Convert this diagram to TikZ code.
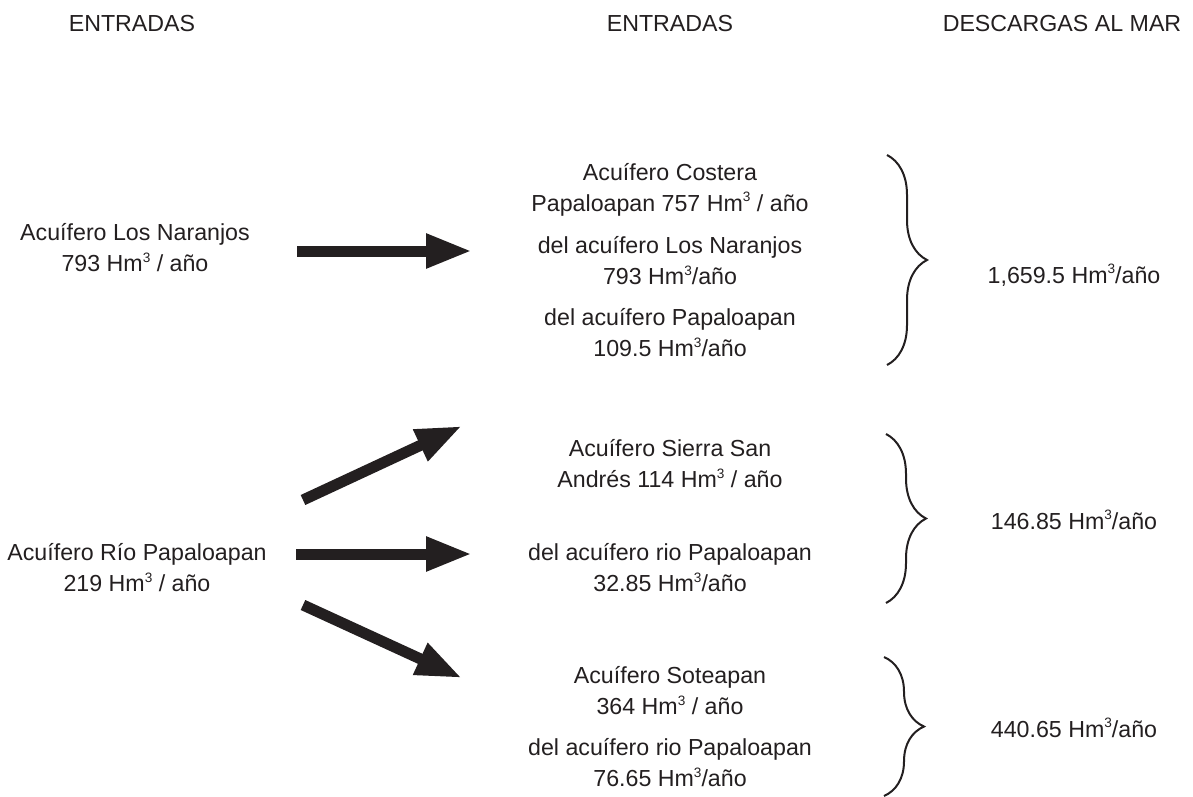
\documentclass[tikz,border=0pt]{standalone}
\usepackage{fontspec}
\setmainfont{Liberation Sans}
\usetikzlibrary{arrows.meta,decorations.pathreplacing}
\definecolor{ink}{HTML}{231F20}
\newcommand{\hmc}{Hm\raisebox{0.42em}{\fontsize{6.8}{7}\selectfont 3}}
\begin{document}
\begin{tikzpicture}[x=0.5pt,y=-0.5pt,
  lbl/.style={align=center, text=ink, font=\fontsize{11.6}{15.5}\selectfont, inner sep=0pt},
  fat/.style={draw=ink, line width=5.5pt, -{Triangle[length=23pt,width=16pt]}},
  brc/.style={draw=ink, line width=1pt, decorate, decoration={brace, amplitude=20pt}}]
\useasboundingbox (0,0) rectangle (1193,797);
% headers
\node[lbl] (h1) at (132,24) {ENTRADAS};
\node[lbl] (h2) at (670,24) {ENTRADAS};
\node[lbl] (h3) at (1062,24) {DESCARGAS AL MAR};
% left sources
\node[lbl] (ln) at (135,248) {Acuífero Los Naranjos\\793 \hmc{} / año};
\node[lbl] (rp) at (137,568) {Acuífero Río Papaloapan\\219 \hmc{} / año};
% middle group 1
\node[lbl] (g1a) at (670,190) {Acuífero Costera\\Papaloapan 757 \hmc{} / año};
\node[lbl] (g1b) at (670,261) {del acuífero Los Naranjos\\793 \hmc/año};
\node[lbl] (g1c) at (670,333) {del acuífero Papaloapan\\109.5 \hmc/año};
% middle group 2
\node[lbl] (g2a) at (670,464) {Acuífero Sierra San\\Andrés 114 \hmc{} / año};
\node[lbl] (g2b) at (670,568) {del acuífero rio Papaloapan\\32.85 \hmc/año};
% middle group 3
\node[lbl] (g3a) at (670,691) {Acuífero Soteapan\\364 \hmc{} / año};
\node[lbl] (g3b) at (670,763) {del acuífero rio Papaloapan\\76.65 \hmc/año};
% right totals
\node[lbl] (t1) at (1074,275) {1,659.5 \hmc/año};
\node[lbl] (t2) at (1074,520) {146.85 \hmc/año};
\node[lbl] (t3) at (1074,728) {440.65 \hmc/año};
% arrow end points
\coordinate (a1s) at (297,251); \coordinate (a1e) at (472,251);
\coordinate (a2s) at (303,500); \coordinate (a2e) at (462,426);
\coordinate (a3s) at (296,554); \coordinate (a3e) at (472,554);
\coordinate (a4s) at (303,605); \coordinate (a4e) at (462,678);
\draw[fat] (a1s) -- (a1e);
\draw[fat] (a2s) -- (a2e);
\draw[fat] (a3s) -- (a3e);
\draw[fat] (a4s) -- (a4e);
% braces
\coordinate (b1t) at (887,155); \coordinate (b1b) at (887,365);
\coordinate (b2t) at (886,434); \coordinate (b2b) at (886,603);
\coordinate (b3t) at (884,657); \coordinate (b3b) at (884,796);
\draw[brc] (b1t) -- (b1b);
\draw[brc] (b2t) -- (b2b);
\draw[brc] (b3t) -- (b3b);
\end{tikzpicture}
\end{document}
